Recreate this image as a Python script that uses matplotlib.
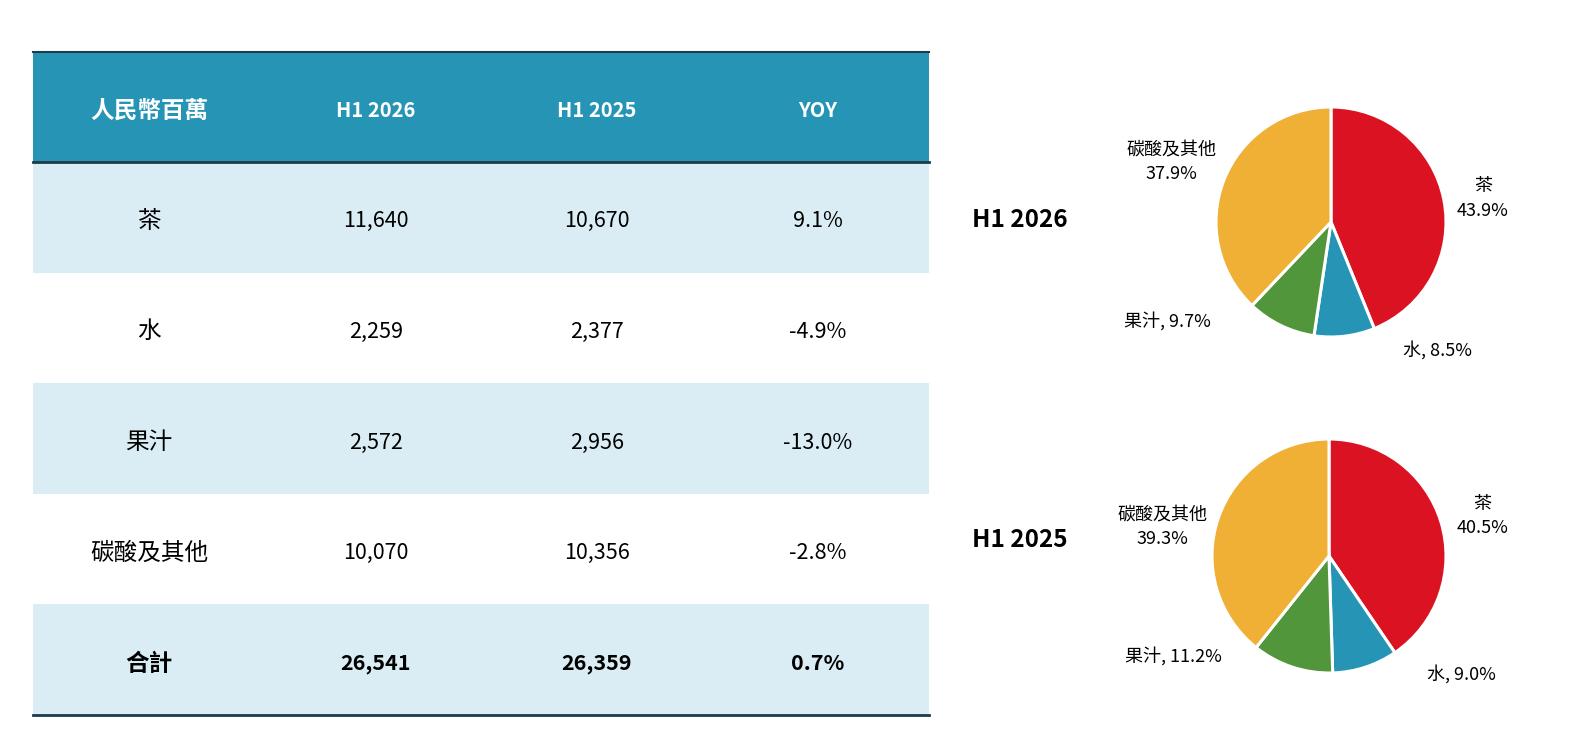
import matplotlib
matplotlib.use('Agg')
import matplotlib.pyplot as plt
from matplotlib.patches import Rectangle

plt.rcParams['font.family'] = ['Noto Sans CJK TC', 'DejaVu Sans']

# data
header = ['人民幣百萬', 'H1 2026', 'H1 2025', 'YOY']
categories = ['茶', '水', '果汁', '碳酸及其他']
h1_2026 = [11640, 2259, 2572, 10070]
h1_2025 = [10670, 2377, 2956, 10356]
yoy = ['9.1%', '-4.9%', '-13.0%', '-2.8%']
total_label = '合計'
total_yoy = '0.7%'
pie_titles = ['H1 2026', 'H1 2025']

colors = ['#DA1222', '#2594B5', '#52963C', '#F0AF35']
head_col = '#2594B5'
band_col = '#DAEDF4'
line_col = '#1D3B4A'

W, H = 1572, 736
fig = plt.figure(figsize=(W / 100, H / 100), dpi=100)
fig.patch.set_facecolor('white')

# table drawn in pixel coordinates
ax = fig.add_axes([0, 0, 1, 1])
ax.set_xlim(0, W)
ax.set_ylim(H, 0)
ax.axis('off')

x0, x1 = 33, 929
y_top, y_bot = 51.5, 715
row_h = (y_bot - y_top) / 6
col_x = [149, 376, 597, 818]
dy = 4  # nudge text down, CJK font sits high with va=center

rows = []
for c, a, b, y in zip(categories, h1_2026, h1_2025, yoy):
    rows.append([c, f'{a:,}', f'{b:,}', y])
rows.append([total_label, f'{sum(h1_2026):,}', f'{sum(h1_2025):,}', total_yoy])

ax.add_patch(Rectangle((x0, y_top), x1 - x0, row_h, color=head_col, lw=0))
for i, txt in enumerate(header):
    size = 17 if i == 0 else 14.5
    ax.text(col_x[i], y_top + row_h / 2 + dy, txt, color='white', fontsize=size,
            fontweight='bold', ha='center', va='center')

for r, row in enumerate(rows):
    ytop = y_top + row_h * (r + 1)
    if r % 2 == 0:
        ax.add_patch(Rectangle((x0, ytop), x1 - x0, row_h, color=band_col, lw=0))
    bold = r == len(rows) - 1
    for i, txt in enumerate(row):
        size = 17 if i == 0 else 15.5
        ax.text(col_x[i], ytop + row_h / 2 + dy, txt, color='black', fontsize=size,
                fontweight='bold' if bold else 'normal', ha='center', va='center')

ax.plot([x0, x1], [y_top, y_top], color=line_col, lw=1.5)
ax.plot([x0, x1], [y_top + row_h, y_top + row_h], color=line_col, lw=2)
ax.plot([x0, x1], [y_bot, y_bot], color=line_col, lw=2)

# pies
pie_centers = [(1331, 222, 115), (1329, 556, 117)]
label_pos = [
    [(1.32, 0.235), (0.93, -1.087), (-1.426, -0.835), (-1.39, 0.557)],
    [(1.31, 0.37), (1.13, -0.98), (-1.33, -0.83), (-1.42, 0.28)],
]
title_pos = [(1020, 218), (1020, 538)]

for k, vals in enumerate([h1_2026, h1_2025]):
    cx, cy, r = pie_centers[k]
    half = 1.8 * r
    pax = fig.add_axes([(cx - half) / W, (H - cy - half) / H, 2 * half / W, 2 * half / H])
    pax.pie(vals, colors=colors, startangle=90, counterclock=False,
            wedgeprops=dict(edgecolor='white', linewidth=2.2))
    pax.set_xlim(-1.8, 1.8)
    pax.set_ylim(-1.8, 1.8)
    pax.set_aspect('equal')
    pax.axis('off')
    tot = sum(vals)
    for j, (cat, v) in enumerate(zip(categories, vals)):
        pct = f'{v / tot * 100:.1f}%'
        if j in (0, 3):
            lab = f'{cat}\n{pct}'
        else:
            lab = f'{cat}, {pct}'
        lx, ly = label_pos[k][j]
        pax.text(lx, ly - 0.03, lab, fontsize=13, ha='center', va='center',
                 linespacing=1.45)
    tx, ty = title_pos[k]
    ax.text(tx, ty + 2, pie_titles[k], fontsize=17.5, fontweight='bold',
            ha='center', va='center')

fig.savefig('out.png', dpi=100)
